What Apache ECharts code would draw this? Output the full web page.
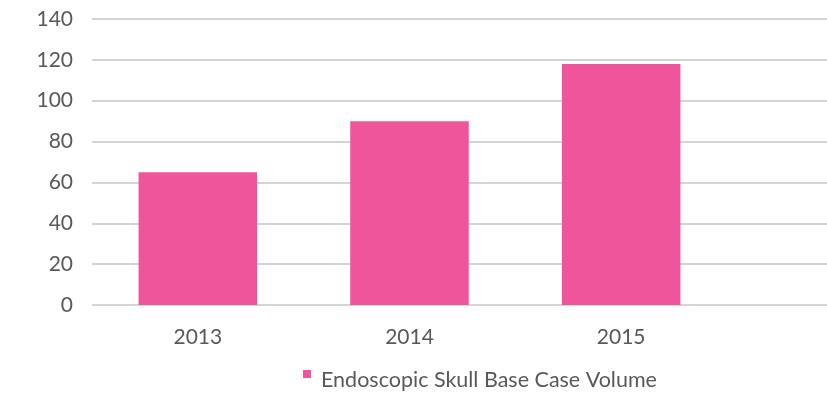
<!DOCTYPE html>
<html><head><meta charset="utf-8">
<script src="https://cdn.jsdelivr.net/npm/echarts@6/dist/echarts.min.js"></script>
<style>html,body{margin:0;padding:0;background:#fff}#c{width:827px;height:396px}</style>
</head><body><div id="c"></div>
<script>
const categories = ['2013', '2014', '2015'];
const seriesName = 'Endoscopic Skull Base Case Volume';
const caseVolume = [65, 90, 118];
const yTicks = [0, 20, 40, 60, 80, 100, 120, 140];

const chart = echarts.init(document.getElementById('c'));
const font = 'Lato, "Open Sans", sans-serif';
const txt = '#595959';
const yMin = yTicks[0], yMax = yTicks[yTicks.length - 1];
chart.setOption({
  backgroundColor: '#ffffff',
  animation: false,
  grid: [
    { left: 92, right: 100, top: 19, bottom: 91 },
    { left: 92, right: 0, top: 19, bottom: 91 }
  ],
  legend: {
    data: [seriesName], left: 303, top: 369, padding: 0,
    icon: 'path://M0,0L8,0L8,8L0,8Z M0,20L0.01,20L0,20Z', itemWidth: 8, itemHeight: 20,
    textStyle: { color: txt, fontSize: 21.5, fontFamily: font, padding: [0, 0, 0, 5] }
  },
  xAxis: [
    {
      type: 'category', data: categories, gridIndex: 0,
      axisLine: { show: false }, axisTick: { show: false },
      axisLabel: { color: txt, fontSize: 21, fontFamily: font, margin: 22 }
    },
    { type: 'value', gridIndex: 1, show: false, min: 0, max: 1 }
  ],
  yAxis: [
    {
      type: 'value', gridIndex: 0, min: yMin, max: yMax, interval: 20,
      axisLine: { show: false }, axisTick: { show: false },
      axisLabel: { color: txt, fontSize: 21, fontFamily: font, margin: 19 },
      splitLine: { show: false }
    },
    {
      type: 'value', gridIndex: 1, min: yMin, max: yMax, interval: 20,
      axisLine: { show: false }, axisTick: { show: false }, axisLabel: { show: false },
      splitLine: { lineStyle: { color: '#d4d4d4', width: 2 } }
    }
  ],
  series: [{
    name: seriesName, type: 'bar', data: caseVolume, barCategoryGap: '44%',
    xAxisIndex: 0, yAxisIndex: 0, z: 3,
    itemStyle: { color: '#ee559b' }
  }]
});
</script></body></html>
